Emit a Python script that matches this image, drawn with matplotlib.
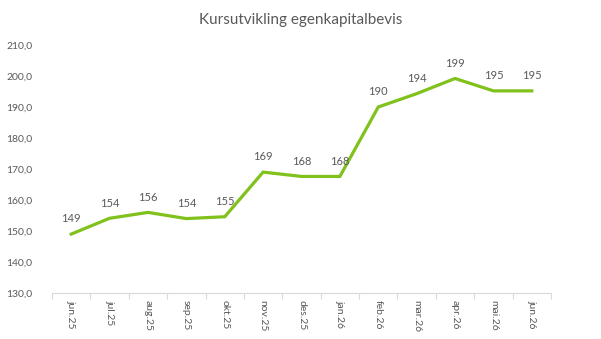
import matplotlib.pyplot as plt
import numpy as np

# måneder og kurs
maaneder = ['jun.25', 'jul.25', 'aug.25', 'sep.25', 'okt.25', 'nov.25', 'des.25',
            'jan.26', 'feb.26', 'mar.26', 'apr.26', 'mai.26', 'jun.26']
kurs = [149.0, 154.1, 156.0, 154.0, 154.6, 169.0, 167.6, 167.6, 190.0, 194.3, 199.2, 195.2, 195.2]
y_ticks = [130, 140, 150, 160, 170, 180, 190, 200, 210]

plt.rcParams['font.family'] = ['Lato', 'DejaVu Sans']
grey = '#595959'

fig = plt.figure(figsize=(6.01, 3.39), dpi=100)
ax = fig.add_axes([52 / 601, 1 - 293 / 339, 499 / 601, 248 / 339])

x = np.arange(len(maaneder))
ax.plot(x, kurs, color='#80C11C', linewidth=2.3, solid_joinstyle='miter')

for xi, v in zip(x, kurs):
    ax.annotate("%d" % round(v), (xi, v), xytext=(0, 11), textcoords='offset points',
                ha='center', va='center', fontsize=8, color=grey)

ax.set_xlim(-0.5, len(maaneder) - 0.5)
ax.set_ylim(130, 210)
ax.set_yticks(y_ticks)
ax.set_yticklabels(["%d,0" % t for t in y_ticks], fontsize=7.5, color=grey)
ax.set_xticks(x)
ax.set_xticklabels(maaneder, rotation=270, fontsize=7.5, color=grey)
ax.set_xticks(np.arange(-0.5, len(maaneder)), minor=True)
ax.tick_params(axis='x', which='major', length=0, pad=5)
ax.tick_params(axis='x', which='minor', length=4, color='#D9D9D9', width=0.8)
ax.tick_params(axis='y', length=0, pad=14)

for s in ['top', 'right', 'left']:
    ax.spines[s].set_visible(False)
ax.spines['bottom'].set_color('#D9D9D9')
ax.spines['bottom'].set_linewidth(0.8)

fig.text(0.5, 1 - 20 / 339, "Kursutvikling egenkapitalbevis", ha='center', va='center',
         fontsize=11, color=grey)

fig.savefig('out.png', dpi=100)
